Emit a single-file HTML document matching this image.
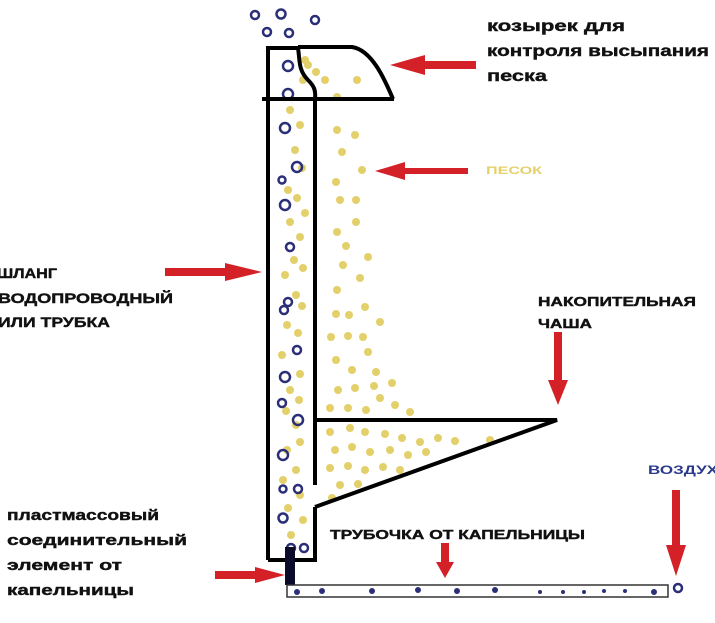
<!DOCTYPE html>
<html><head><meta charset="utf-8"><style>html,body{margin:0;padding:0;background:#fff;}svg{display:block}</style></head>
<body>
<svg width="715" height="623" viewBox="0 0 715 623" xmlns="http://www.w3.org/2000/svg" font-family="'Liberation Sans', sans-serif" font-weight="bold">
<rect width="715" height="623" fill="#fff"/>
<g fill="#e3d06a">
<circle cx="308" cy="65" r="4"/><circle cx="316" cy="72" r="4"/><circle cx="303" cy="80" r="4"/><circle cx="325" cy="80" r="4"/><circle cx="305" cy="60" r="4"/>
<circle cx="290" cy="110" r="4"/><circle cx="300" cy="125" r="4"/><circle cx="295" cy="150" r="4"/><circle cx="302" cy="168" r="4"/><circle cx="288" cy="190" r="4"/><circle cx="297" cy="198" r="4"/><circle cx="305" cy="213" r="4"/><circle cx="290" cy="222" r="4"/><circle cx="300" cy="237" r="4"/><circle cx="294" cy="260" r="4"/><circle cx="303" cy="268" r="4"/><circle cx="285" cy="275" r="4"/><circle cx="296" cy="295" r="4"/><circle cx="302" cy="306" r="4"/><circle cx="287" cy="325" r="4"/><circle cx="298" cy="333" r="4"/><circle cx="282" cy="355" r="4"/><circle cx="300" cy="374" r="4"/><circle cx="290" cy="390" r="4"/><circle cx="299" cy="400" r="4"/><circle cx="286" cy="411" r="4"/><circle cx="296" cy="425" r="4"/><circle cx="300" cy="442" r="4"/><circle cx="287" cy="450" r="4"/><circle cx="296" cy="470" r="4"/><circle cx="283" cy="480" r="4"/><circle cx="300" cy="495" r="4"/><circle cx="288" cy="508" r="4"/><circle cx="303" cy="520" r="4"/><circle cx="291" cy="535" r="4"/>
<circle cx="337" cy="97" r="4"/><circle cx="357" cy="80" r="4"/><circle cx="337" cy="130" r="4"/><circle cx="355" cy="135" r="4"/><circle cx="342" cy="152" r="4"/><circle cx="362" cy="170" r="4"/><circle cx="336" cy="182" r="4"/><circle cx="340" cy="200" r="4"/><circle cx="356" cy="200" r="4"/><circle cx="356" cy="222" r="4"/><circle cx="337" cy="232" r="4"/><circle cx="346" cy="246" r="4"/><circle cx="368" cy="257" r="4"/><circle cx="343" cy="265" r="4"/><circle cx="360" cy="278" r="4"/><circle cx="337" cy="290" r="4"/><circle cx="365" cy="307" r="4"/><circle cx="336" cy="314" r="4"/><circle cx="349" cy="315" r="4"/><circle cx="380" cy="322" r="4"/><circle cx="331" cy="337" r="4"/><circle cx="348" cy="336" r="4"/><circle cx="363" cy="337" r="4"/><circle cx="368" cy="352" r="4"/><circle cx="336" cy="360" r="4"/><circle cx="352" cy="370" r="4"/><circle cx="376" cy="372" r="4"/><circle cx="338" cy="390" r="4"/><circle cx="355" cy="388" r="4"/><circle cx="374" cy="386" r="4"/><circle cx="392" cy="383" r="4"/><circle cx="380" cy="398" r="4"/><circle cx="395" cy="405" r="4"/><circle cx="330" cy="408" r="4"/><circle cx="348" cy="408" r="4"/><circle cx="366" cy="410" r="4"/><circle cx="410" cy="412" r="4"/>
<circle cx="330" cy="432" r="4"/><circle cx="350" cy="428" r="4"/><circle cx="365" cy="432" r="4"/><circle cx="385" cy="434" r="4"/><circle cx="402" cy="438" r="4"/><circle cx="420" cy="442" r="4"/><circle cx="438" cy="438" r="4"/><circle cx="455" cy="441" r="4"/><circle cx="490" cy="440" r="4"/><circle cx="335" cy="450" r="4"/><circle cx="352" cy="447" r="4"/><circle cx="370" cy="452" r="4"/><circle cx="390" cy="450" r="4"/><circle cx="408" cy="455" r="4"/><circle cx="426" cy="452" r="4"/><circle cx="330" cy="468" r="4"/><circle cx="348" cy="466" r="4"/><circle cx="365" cy="470" r="4"/><circle cx="383" cy="467" r="4"/><circle cx="400" cy="470" r="4"/><circle cx="340" cy="485" r="4"/><circle cx="358" cy="484" r="4"/><circle cx="332" cy="498" r="4"/>
</g>
<g fill="none" stroke="#2b2f78" stroke-width="2.5">
<circle cx="255" cy="15" r="4"/><circle cx="281" cy="14" r="4.5"/><circle cx="315" cy="20" r="4"/><circle cx="267" cy="32" r="4"/><circle cx="289" cy="33" r="4"/>
<circle cx="288" cy="66" r="5"/><circle cx="288" cy="94" r="5"/><circle cx="285" cy="128" r="5"/><circle cx="297" cy="167" r="5"/><circle cx="282" cy="180" r="3.5"/><circle cx="285" cy="205" r="5"/><circle cx="290" cy="247" r="4"/><circle cx="288" cy="302" r="4"/><circle cx="284" cy="310" r="4"/><circle cx="297" cy="350" r="4"/><circle cx="285" cy="377" r="5"/><circle cx="282" cy="403" r="4"/><circle cx="298" cy="420" r="5"/><circle cx="283" cy="455" r="5"/><circle cx="283" cy="489" r="3.5"/><circle cx="298" cy="489" r="4"/><circle cx="283" cy="518" r="4.5"/><circle cx="291" cy="548" r="4"/><circle cx="304" cy="548" r="4"/>
<circle cx="678" cy="588" r="4"/>
</g>
<g fill="none" stroke="#000" stroke-width="4">
<path d="M268 560 V48 H300"/>
<path d="M268 560 H315 V507"/>
<path d="M315 100 V485"/>
<path d="M298 48 C300 60 298 70 308 80 C314 86 316 90 315 100"/>
<path d="M298 47 H352 C372 50 385 80 393 99"/>
<path d="M262 99 H394"/>
<path d="M315 420 H557 L315 507"/>
</g>
<rect x="285" y="547" width="10" height="38" fill="#0b0b2a"/>
<rect x="287" y="585" width="381" height="12" fill="#fff" stroke="#333" stroke-width="1.5"/>
<g fill="#2b2f78">
<circle cx="297" cy="592" r="3"/><circle cx="322" cy="591" r="3"/><circle cx="372" cy="591" r="3"/><circle cx="418" cy="590" r="3"/><circle cx="457" cy="591" r="3"/><circle cx="495" cy="590" r="3"/><circle cx="540" cy="592" r="2"/><circle cx="563" cy="592" r="2"/><circle cx="584" cy="592" r="2"/><circle cx="604" cy="591" r="2"/><circle cx="625" cy="591" r="2"/><circle cx="654" cy="592" r="3"/>
</g>
<g fill="#d42027">
<path d="M390 65 L425 55 L425 61 L476 61 L476 69 L425 69 L425 75 Z"/>
<path d="M375 171 L405 162 L405 168 L468 168 L468 174 L405 174 L405 180 Z"/>
<path d="M165 268 L225 268 L225 263 L262 272 L225 281 L225 276 L165 276 Z"/>
<path d="M554 332 L562 332 L562 380 L568 380 L558 405 L548 380 L554 380 Z"/>
<path d="M672 490 L680 490 L680 545 L686 545 L676 576 L666 545 L672 545 Z"/>
<path d="M441 543 L449 543 L449 562 L454 562 L445 578 L436 562 L441 562 Z"/>
<path d="M215 571 L255 571 L255 567 L285 575 L255 583 L255 579 L215 579 Z"/>
</g>
<g fill="#111" stroke="#111" stroke-width="0.4" font-size="16">
<text x="487" y="31" textLength="138" lengthAdjust="spacingAndGlyphs">козырек  для</text>
<text x="487" y="56" textLength="222" lengthAdjust="spacingAndGlyphs">контроля высыпания</text>
<text x="487" y="81" textLength="60" lengthAdjust="spacingAndGlyphs">песка</text>
</g>
<text x="486" y="174" font-size="11" fill="#e3d06a" textLength="56" lengthAdjust="spacingAndGlyphs">ПЕСОК</text>
<g fill="#111" stroke="#111" stroke-width="0.4" font-size="14">
<text x="-3" y="278" textLength="60" lengthAdjust="spacingAndGlyphs">ШЛАНГ</text>
<text x="-2" y="303" textLength="175" lengthAdjust="spacingAndGlyphs">ВОДОПРОВОДНЫЙ</text>
<text x="-2" y="327" textLength="112" lengthAdjust="spacingAndGlyphs">ИЛИ ТРУБКА</text>
<text x="538" y="306" font-size="13" textLength="158" lengthAdjust="spacingAndGlyphs">НАКОПИТЕЛЬНАЯ</text>
<text x="538" y="328" font-size="13" textLength="54" lengthAdjust="spacingAndGlyphs">ЧАША</text>
<text x="330" y="539" font-size="13" textLength="255" lengthAdjust="spacingAndGlyphs">ТРУБОЧКА ОТ КАПЕЛЬНИЦЫ</text>
</g>
<text x="648" y="474" font-size="12" fill="#2b3a8a" textLength="70" lengthAdjust="spacingAndGlyphs">ВОЗДУХ</text>
<g fill="#111" stroke="#111" stroke-width="0.4" font-size="15">
<text x="7" y="520" textLength="152" lengthAdjust="spacingAndGlyphs">пластмассовый</text>
<text x="7" y="545" textLength="180" lengthAdjust="spacingAndGlyphs">соединительный</text>
<text x="7" y="570" textLength="115" lengthAdjust="spacingAndGlyphs">элемент от</text>
<text x="7" y="595" textLength="127" lengthAdjust="spacingAndGlyphs">капельницы</text>
</g>
</svg>
</body></html>
